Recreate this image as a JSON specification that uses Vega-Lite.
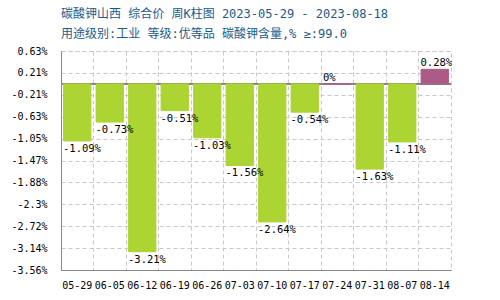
{
  "$schema": "https://vega.github.io/schema/vega-lite/v6.json",
  "width": 390,
  "height": 219,
  "autosize": {"type": "none"},
  "padding": {"left": 61, "top": 51, "right": 49, "bottom": 30},
  "background": "white",
  "config": {
    "view": {"stroke": "#c8c8c8", "strokeDash": [4, 3]},
    "axis": {
      "labelFont": "DejaVu Sans Mono",
      "labelFontSize": 10,
      "labelColor": "#000000",
      "domainColor": "#888888",
      "gridColor": "#c8c8c8",
      "gridDash": [4, 3],
      "ticks": false,
      "title": null,
      "labelOverlap": false
    }
  },
  "title": {
    "text": ["碳酸钾山西 综合价 周K柱图 2023-05-29 - 2023-08-18", "用途级别:工业 等级:优等品 碳酸钾含量,% ≥:99.0"],
    "font": "DejaVu Sans Mono, Noto Sans CJK SC",
    "fontSize": 12,
    "fontWeight": "normal",
    "color": "#1b5a8c",
    "anchor": "start",
    "frame": "group",
    "lineHeight": 20,
    "offset": 5
  },
  "data": {
    "values": [
      {"d": "05-29", "v": -1.09},
      {"d": "06-05", "v": -0.73},
      {"d": "06-12", "v": -3.21},
      {"d": "06-19", "v": -0.51},
      {"d": "06-26", "v": -1.03},
      {"d": "07-03", "v": -1.56},
      {"d": "07-10", "v": -2.64},
      {"d": "07-17", "v": -0.54},
      {"d": "07-24", "v": 0},
      {"d": "07-31", "v": -1.63},
      {"d": "08-07", "v": -1.11},
      {"d": "08-14", "v": 0.28}
    ]
  },
  "transform": [{"calculate": "datum.v + '%'", "as": "lab"}],
  "encoding": {
    "x": {
      "field": "d",
      "type": "nominal",
      "sort": null,
      "scale": {"paddingInner": 0, "paddingOuter": 0},
      "axis": {"grid": true, "bandPosition": 0, "labelAngle": 0, "labelPadding": 10}
    }
  },
  "layer": [
    {
      "mark": {"type": "rule", "color": "#888888", "strokeWidth": 1},
      "encoding": {"y": {"datum": 0, "type": "quantitative"}, "x": null}
    },
    {
      "mark": {"type": "bar", "width": {"band": 0.84}, "strokeWidth": 1},
      "encoding": {
        "y": {
          "field": "v",
          "type": "quantitative",
          "scale": {"domain": [-3.56, 0.63], "nice": false, "zero": false},
          "axis": {
            "values": [0.63, 0.21, -0.21, -0.63, -1.05, -1.47, -1.88, -2.3, -2.72, -3.14, -3.56],
            "tickCount": 20,
            "labelExpr": "datum.value + '%'",
            "grid": true,
            "labelPadding": 14,
            "labelOverlap": false,
            "labelBound": false,
            "labelFlush": false
          }
        },
        "color": {
          "condition": {"test": "datum.v >= 0", "value": "#ac5a86"},
          "value": "#acd432"
        },
        "stroke": {
          "condition": {"test": "datum.v >= 0", "value": "#ac5a86"},
          "value": "#acd432"
        }
      }
    },
    {
      "transform": [{"filter": "datum.v < 0"}],
      "mark": {"type": "text", "font": "DejaVu Sans Mono", "fontSize": 10.5, "align": "left", "baseline": "top", "dx": 2, "dy": 3, "color": "#000000"},
      "encoding": {
        "x": {"field": "d", "type": "nominal", "sort": null, "bandPosition": 0},
        "y": {"field": "v", "type": "quantitative"},
        "text": {"field": "lab"}
      }
    },
    {
      "transform": [{"filter": "datum.v >= 0"}],
      "mark": {"type": "text", "font": "DejaVu Sans Mono", "fontSize": 10.5, "align": "left", "baseline": "bottom", "dx": 2, "dy": -1, "color": "#000000"},
      "encoding": {
        "x": {"field": "d", "type": "nominal", "sort": null, "bandPosition": 0},
        "y": {"field": "v", "type": "quantitative"},
        "text": {"field": "lab"}
      }
    }
  ]
}
